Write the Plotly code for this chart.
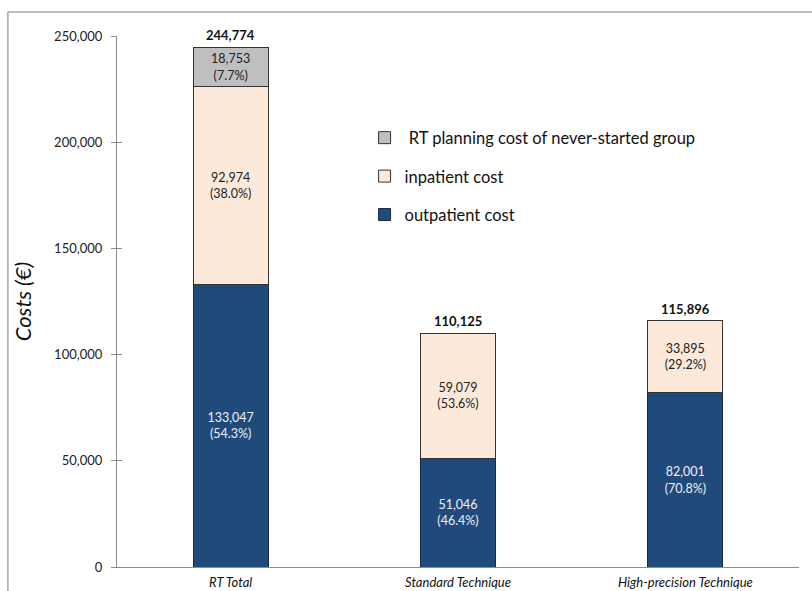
import plotly.graph_objects as go

categories = ["RT Total", "Standard Technique", "High-precision Technique"]
outpatient = [133047, 51046, 82001]
inpatient = [92974, 59079, 33895]
planning = [18753, 0, 0]
totals = [244774, 110125, 115896]
outpatient_pct = ["54.3%", "46.4%", "70.8%"]
inpatient_pct = ["38.0%", "53.6%", "29.2%"]
planning_pct = ["7.7%", "", ""]
y_ticks = [0, 50000, 100000, 150000, 200000, 250000]

FONT = "Lato, 'Open Sans', sans-serif"


def seg_labels(vals, pcts):
    return [f"{v:,}<br>({p})" if v else "" for v, p in zip(vals, pcts)]


fig = go.Figure()
fig.add_bar(
    x=categories, y=outpatient, name="outpatient cost", legendgroup="a",
    legendrank=3,
    marker=dict(color="#214a7c", line=dict(color="#1a2a40", width=1)),
    text=seg_labels(outpatient, outpatient_pct), textposition="inside",
    insidetextanchor="middle", textangle=0,
    insidetextfont=dict(color="#eef0f4", size=12.5, family=FONT),
    width=0.33, hoverinfo="skip",
)
fig.add_bar(
    x=categories, y=inpatient, name="inpatient cost", legendgroup="b",
    legendrank=2,
    marker=dict(color="#fde9d9", line=dict(color="#333333", width=1)),
    text=seg_labels(inpatient, inpatient_pct), textposition="inside",
    insidetextanchor="middle", textangle=0,
    insidetextfont=dict(color="#222222", size=12.5, family=FONT),
    width=0.33, hoverinfo="skip",
)
fig.add_bar(
    x=categories, y=planning, name="\u00a0RT planning cost of never-started group",
    legendgroup="c", legendrank=1,
    marker=dict(color="#bfbfbf", line=dict(color="#333333", width=1)),
    text=seg_labels(planning, planning_pct), textposition="inside",
    insidetextanchor="middle", textangle=0,
    insidetextfont=dict(color="#222222", size=12.5, family=FONT),
    width=0.33, hoverinfo="skip",
)

# bold totals above each stack
for c, t in zip(categories, totals):
    fig.add_annotation(x=c, y=t, text=f"<b>{t:,}</b>", showarrow=False,
                       yanchor="bottom", yshift=2,
                       font=dict(size=13, color="#111111", family=FONT))

# outer chart frame (top and left edges)
frame = dict(color="#a8a8a8", width=1.5)
fig.add_shape(type="line", xref="paper", yref="paper",
              x0=-0.16, x1=1.05, y0=1.045, y1=1.045, line=frame)
fig.add_shape(type="line", xref="paper", yref="paper",
              x0=-0.16, x1=-0.16, y0=1.045, y1=-0.1, line=frame)

fig.update_layout(
    width=812, height=591,
    margin=dict(l=117, r=13, t=36, b=24, autoexpand=False),
    paper_bgcolor="white", plot_bgcolor="white",
    barmode="stack",
    font=dict(family=FONT, color="#222222"),
    uniformtext=dict(minsize=12.5, mode="show"),
    showlegend=True,
    legend=dict(
        x=0.363, y=0.841, xanchor="left", yanchor="top",
        traceorder="grouped", tracegroupgap=14,
        font=dict(size=16.5, color="#111111", family=FONT),
        itemwidth=30, bgcolor="rgba(0,0,0,0)",
    ),
    xaxis=dict(
        range=[-0.5, 2.5], showline=True, linecolor="#8c8c8c", linewidth=1.2,
        ticks="", ticklabelstandoff=3, automargin=False,
        tickfont=dict(size=13, family=FONT, color="#111111", style="italic"),
        showgrid=False, zeroline=False,
    ),
    yaxis=dict(
        range=[0, 250000], tickvals=y_ticks, tickformat=",d",
        showline=True, linecolor="#8c8c8c", linewidth=1.2, automargin=False,
        ticks="outside", ticklen=5, tickcolor="#8c8c8c", ticklabelstandoff=6,
        tickfont=dict(size=13, family=FONT, color="#222222"),
        showgrid=False, zeroline=False,
        title=dict(text="Costs (€)", standoff=16,
                   font=dict(size=22, family=FONT, color="#111111", style="italic")),
    ),
    yaxis2=dict(
        range=[0, 250000], tickvals=y_ticks, overlaying="y", side="left",
        showticklabels=False, ticks="inside", ticklen=5, tickcolor="#8c8c8c",
        showgrid=False, zeroline=False, showline=False, automargin=False,
    ),
)
fig.add_scatter(x=[categories[0]], y=[0], yaxis="y2", mode="markers",
                marker=dict(opacity=0), showlegend=False, hoverinfo="skip")

fig.write_html("out.html")
